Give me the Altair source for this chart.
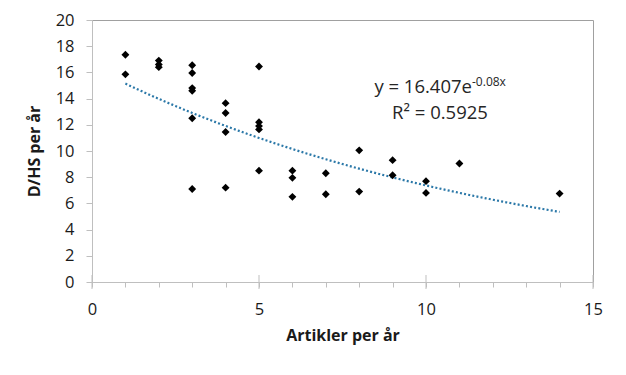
import altair as alt
import pandas as pd

# Data
artikler = [1, 1,
            2, 2, 2,
            3, 3, 3, 3, 3, 3,
            4, 4, 4, 4,
            5, 5, 5, 5, 5,
            6, 6, 6,
            7, 7,
            8, 8,
            9, 9,
            10, 10,
            11,
            14]
dhs = [17.35, 15.85,
       16.9, 16.6, 16.4,
       16.55, 15.95, 14.8, 14.6, 12.5, 7.1,
       13.65, 12.9, 11.45, 7.2,
       16.45, 12.2, 11.9, 11.65, 8.5,
       8.5, 7.95, 6.5,
       8.3, 6.7,
       10.05, 6.9,
       9.3, 8.15,
       7.7, 6.8,
       9.05,
       6.75]

# Trendline coefficients as displayed (y = a * e^(b x)), and its x extent
trend_a = 16.407
trend_b = -0.08
trend_start, trend_end = 1, 14

x_ticks = list(range(0, 16))
x_major = [0, 5, 10, 15]
y_ticks = list(range(0, 21, 2))

eq_main = "y = 16.407e"
eq_sup = "-0.08x"
r2_text = "R² = 0.5925"

FONT = "Open Sans"
W, H = 501, 262

df = pd.DataFrame({"x": artikler, "y": dhs})

x_scale = alt.Scale(domain=[0, 15], nice=False)
y_scale = alt.Scale(domain=[0, 20], nice=False)

x_axis = alt.Axis(title="Artikler per år", values=x_ticks,
                  labelExpr="datum.value % 5 == 0 ? datum.label : ''",
                  grid=False, tickSize=5, labelPadding=14,
                  labelOverlap=False, labelFlush=False, labelBound=False,
                  titlePadding=10)
y_axis = alt.Axis(title="D/HS per år", values=y_ticks, grid=False,
                  tickSize=6, labelPadding=12, titlePadding=13,
                  labelOverlap=False, labelFlush=False, labelBound=False)

trend = alt.Chart(alt.sequence(trend_start, trend_end + 0.001, 0.1, as_="x")).transform_calculate(
    y=f"{trend_a} * exp({trend_b} * datum.x)"
).mark_line(color="#2b78a8", strokeWidth=2.2, strokeDash=[2, 2.2], strokeCap="butt").encode(
    x=alt.X("x:Q", scale=x_scale, axis=x_axis),
    y=alt.Y("y:Q", scale=y_scale, axis=y_axis),
)

points = alt.Chart(df).mark_point(
    shape="diamond", filled=True, color="black", size=62, opacity=1
).encode(
    x=alt.X("x:Q", scale=x_scale, axis=x_axis),
    y=alt.Y("y:Q", scale=y_scale, axis=y_axis),
)

major = alt.Chart(pd.DataFrame({"x": x_major})).mark_rule(
    color="#bfbfbf", strokeWidth=1
).encode(
    x=alt.X("x:Q", scale=x_scale, axis=x_axis),
    y=alt.value(H - 7),
    y2=alt.value(H + 7),
)

txt_main = alt.Chart(pd.DataFrame({"t": [eq_main]})).mark_text(
    font=FONT, fontSize=18.5, align="right", baseline="middle", color="#262626"
).encode(x=alt.value(380), y=alt.value(67), text="t:N")

txt_sup = alt.Chart(pd.DataFrame({"t": [eq_sup]})).mark_text(
    font=FONT, fontSize=12, align="left", baseline="middle", color="#262626"
).encode(x=alt.value(380), y=alt.value(62), text="t:N")

txt_r2 = alt.Chart(pd.DataFrame({"t": [r2_text]})).mark_text(
    font=FONT, fontSize=18.5, align="center", baseline="middle", color="#262626"
).encode(x=alt.value(348), y=alt.value(93), text="t:N")

chart = alt.layer(trend, points, major, txt_main, txt_sup, txt_r2).properties(
    width=W, height=H,
    autosize="none",
    padding={"left": 84, "top": 12, "right": 25, "bottom": 85},
    background="white",
).configure_view(
    stroke="#a0a0a0", strokeWidth=1
).configure_axis(
    labelFont=FONT, labelFontSize=16.5, labelColor="#1a1a1a",
    titleFont=FONT, titleFontSize=16, titleFontWeight="bold", titleColor="#1a1a1a",
    domainColor="#bfbfbf", tickColor="#bfbfbf", domainWidth=1, tickWidth=1,
    zindex=1,
)

chart.save("out.html", embed_options={"renderer": "svg", "actions": False})
